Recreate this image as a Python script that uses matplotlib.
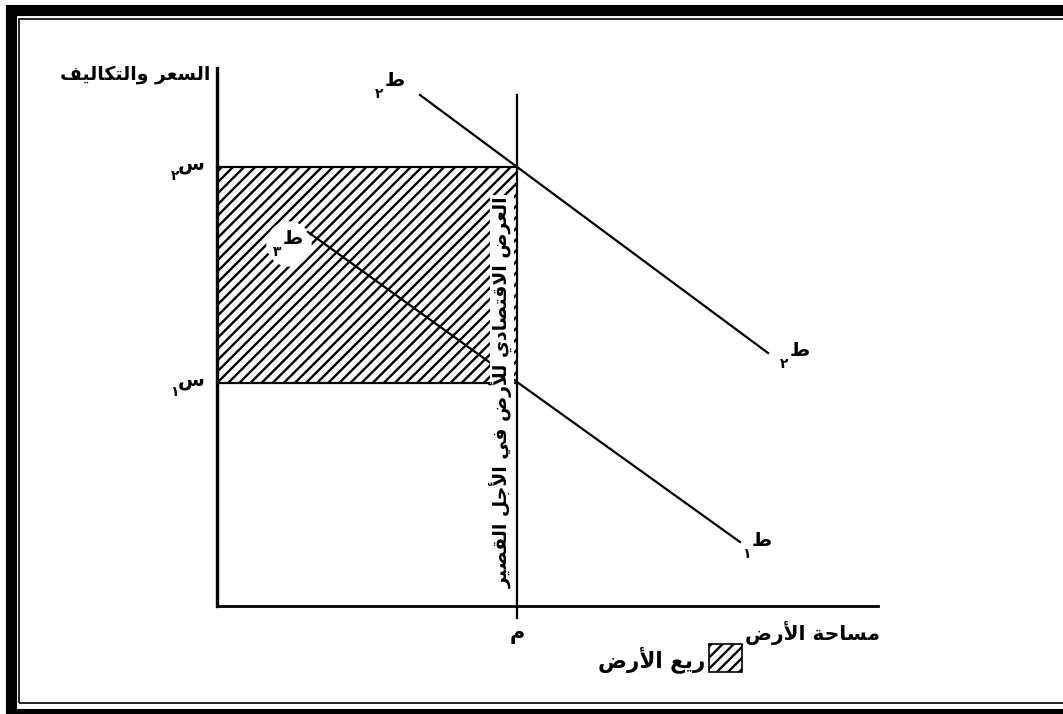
''' Land rent diagram: short-run land supply with two demand curves
'''

import matplotlib
matplotlib.use('Agg')
import matplotlib.pyplot as plt  # noqa E402
from matplotlib.patches import Rectangle, Circle  # noqa E402

# --- chart values (data units, origin at the axes corner) ---
y_axis_top = 5.38
x_axis_right = 6.61
land_area = 3.0                  # م : fixed short-run supply
price_levels = [2.23, 4.39]      # س١ , س٢
demand_1 = ([0.91, 5.23], [3.74, 0.64])   # ط١ (from ط٣ down to ط١)
demand_2 = ([2.03, 5.51], [5.11, 2.53])   # ط٢

title_y = "السعر والتكاليف"
title_x = "مساحة الأرض"
supply_label = "العرض الاقتصادي للأرض في الأجل القصير"
legend_label = "ريع الأرض"
price_letter = "س"
demand_letter = "ط"
price_digits = ["١", "٢"]
demand_digits = ["١", "٢", "٣"]
area_letter = "م"

# --- minimal arabic shaping (matplotlib has no bidi / joining) ---
FORMS = {
    'ا': (0xFE8D, 0xFE8E, None, None),
    'أ': (0xFE83, 0xFE84, None, None),
    'ب': (0xFE8F, 0xFE90, 0xFE91, 0xFE92),
    'ة': (0xFE93, 0xFE94, None, None),
    'ت': (0xFE95, 0xFE96, 0xFE97, 0xFE98),
    'ج': (0xFE9D, 0xFE9E, 0xFE9F, 0xFEA0),
    'ح': (0xFEA1, 0xFEA2, 0xFEA3, 0xFEA4),
    'د': (0xFEA9, 0xFEAA, None, None),
    'ر': (0xFEAD, 0xFEAE, None, None),
    'س': (0xFEB1, 0xFEB2, 0xFEB3, 0xFEB4),
    'ص': (0xFEB9, 0xFEBA, 0xFEBB, 0xFEBC),
    'ض': (0xFEBD, 0xFEBE, 0xFEBF, 0xFEC0),
    'ط': (0xFEC1, 0xFEC2, 0xFEC3, 0xFEC4),
    'ع': (0xFEC9, 0xFECA, 0xFECB, 0xFECC),
    'ف': (0xFED1, 0xFED2, 0xFED3, 0xFED4),
    'ق': (0xFED5, 0xFED6, 0xFED7, 0xFED8),
    'ك': (0xFED9, 0xFEDA, 0xFEDB, 0xFEDC),
    'ل': (0xFEDD, 0xFEDE, 0xFEDF, 0xFEE0),
    'م': (0xFEE1, 0xFEE2, 0xFEE3, 0xFEE4),
    'ن': (0xFEE5, 0xFEE6, 0xFEE7, 0xFEE8),
    'و': (0xFEED, 0xFEEE, None, None),
    'ي': (0xFEF1, 0xFEF2, 0xFEF3, 0xFEF4),
}
LAM_ALEF = {'ا': (0xFEFB, 0xFEFC), 'أ': (0xFEF7, 0xFEF8)}


def dual(c):
    return c in FORMS and FORMS[c][2] is not None


def shape(s):
    out = []
    i = 0
    while i < len(s):
        c = s[i]
        prev = s[i - 1] if i > 0 else ''
        nxt = s[i + 1] if i + 1 < len(s) else ''
        joined_prev = dual(prev)
        if c == 'ل' and nxt in LAM_ALEF:
            iso, fin = LAM_ALEF[nxt]
            out.append(chr(fin if joined_prev else iso))
            i += 2
            continue
        if c not in FORMS:
            out.append(c)
            i += 1
            continue
        iso, fin, ini, med = FORMS[c]
        joins_next = dual(c) and nxt in FORMS
        if joined_prev and joins_next:
            out.append(chr(med))
        elif joined_prev:
            out.append(chr(fin))
        elif joins_next:
            out.append(chr(ini))
        else:
            out.append(chr(iso))
        i += 1
    return ''.join(reversed(out))


plt.rcParams['font.family'] = ['DejaVu Sans']
plt.rcParams['hatch.linewidth'] = 1.7

fig = plt.figure(figsize=(10.63, 7.14), dpi=100)
ax = fig.add_axes([0, 0, 1, 1])
ax.set_xlim(-2.17, 8.46)
ax.set_ylim(-1.08, 6.06)
ax.axis('off')

# page frame (thick outer, thin inner)
fig.patches.append(Rectangle((0.0105, 0.0), 1.2, 0.9853, transform=fig.transFigure,
                             fill=False, lw=8, ec='black'))
fig.patches.append(Rectangle((0.0183, 0.0155), 1.2, 0.9580, transform=fig.transFigure,
                             fill=False, lw=1.2, ec='black'))

# rent area
lo, hi = price_levels
ax.add_patch(Rectangle((0, lo), land_area, hi - lo, facecolor='white',
                       edgecolor='black', hatch='///', lw=0, zorder=1))

# axes
ax.plot([0, 0], [0, y_axis_top], color='black', lw=2.4, zorder=3)
ax.plot([0, x_axis_right], [0, 0], color='black', lw=2.0, zorder=3)

# supply line and price levels
ax.plot([land_area, land_area], [-0.12, 5.11], color='black', lw=1.6, zorder=3)
for p in price_levels:
    ax.plot([0, land_area], [p, p], color='black', lw=1.6, zorder=3)

# demand curves
ax.plot(*demand_1, color='black', lw=1.6, zorder=3)
ax.plot(*demand_2, color='black', lw=1.6, zorder=3)

# white patch behind ط٣
ax.add_patch(Circle((0.72, 3.62), 0.22, color='white', zorder=2))

font = dict(color='black', fontweight='bold')

ax.text(-0.07, 5.31, shape(title_y), ha='right', va='center', fontsize=13.5, **font)
ax.text(6.63, -0.27, shape(title_x), ha='right', va='center', fontsize=14.5, **font)
ax.text(land_area, -0.28, area_letter, ha='center', va='center', fontsize=15, **font)

# price labels
for p, d in zip(price_levels, price_digits):
    ax.text(-0.12, p + 0.03, shape(price_letter), ha='right', va='center',
            fontsize=14, **font)
    ax.text(-0.38, p - 0.09, d, ha='right', va='center', fontsize=10, **font)


def demand_label(x, y, digit):
    ax.text(x, y, shape(demand_letter), ha='center', va='center',
            fontsize=14, zorder=4, **font)
    ax.text(x - 0.16, y - 0.14, digit, ha='center', va='center',
            fontsize=10, zorder=4, **font)


demand_label(1.78, 5.26, demand_digits[1])
demand_label(5.83, 2.56, demand_digits[1])
demand_label(5.45, 0.66, demand_digits[0])
demand_label(0.76, 3.68, demand_digits[2])

# vertical supply label
ax.text(2.85, 2.14, shape(supply_label), rotation=90, ha='center', va='center',
        fontsize=13.5, zorder=4,
        bbox=dict(facecolor='white', edgecolor='none', pad=0.5), **font)

# legend
ax.add_patch(Rectangle((4.92, -0.66), 0.33, 0.28, facecolor='white',
                       edgecolor='black', hatch='///', lw=1.2, zorder=3))
ax.text(4.88, -0.54, shape(legend_label), ha='right', va='center',
        fontsize=15.5, **font)

fig.savefig('out.png', dpi=100)
